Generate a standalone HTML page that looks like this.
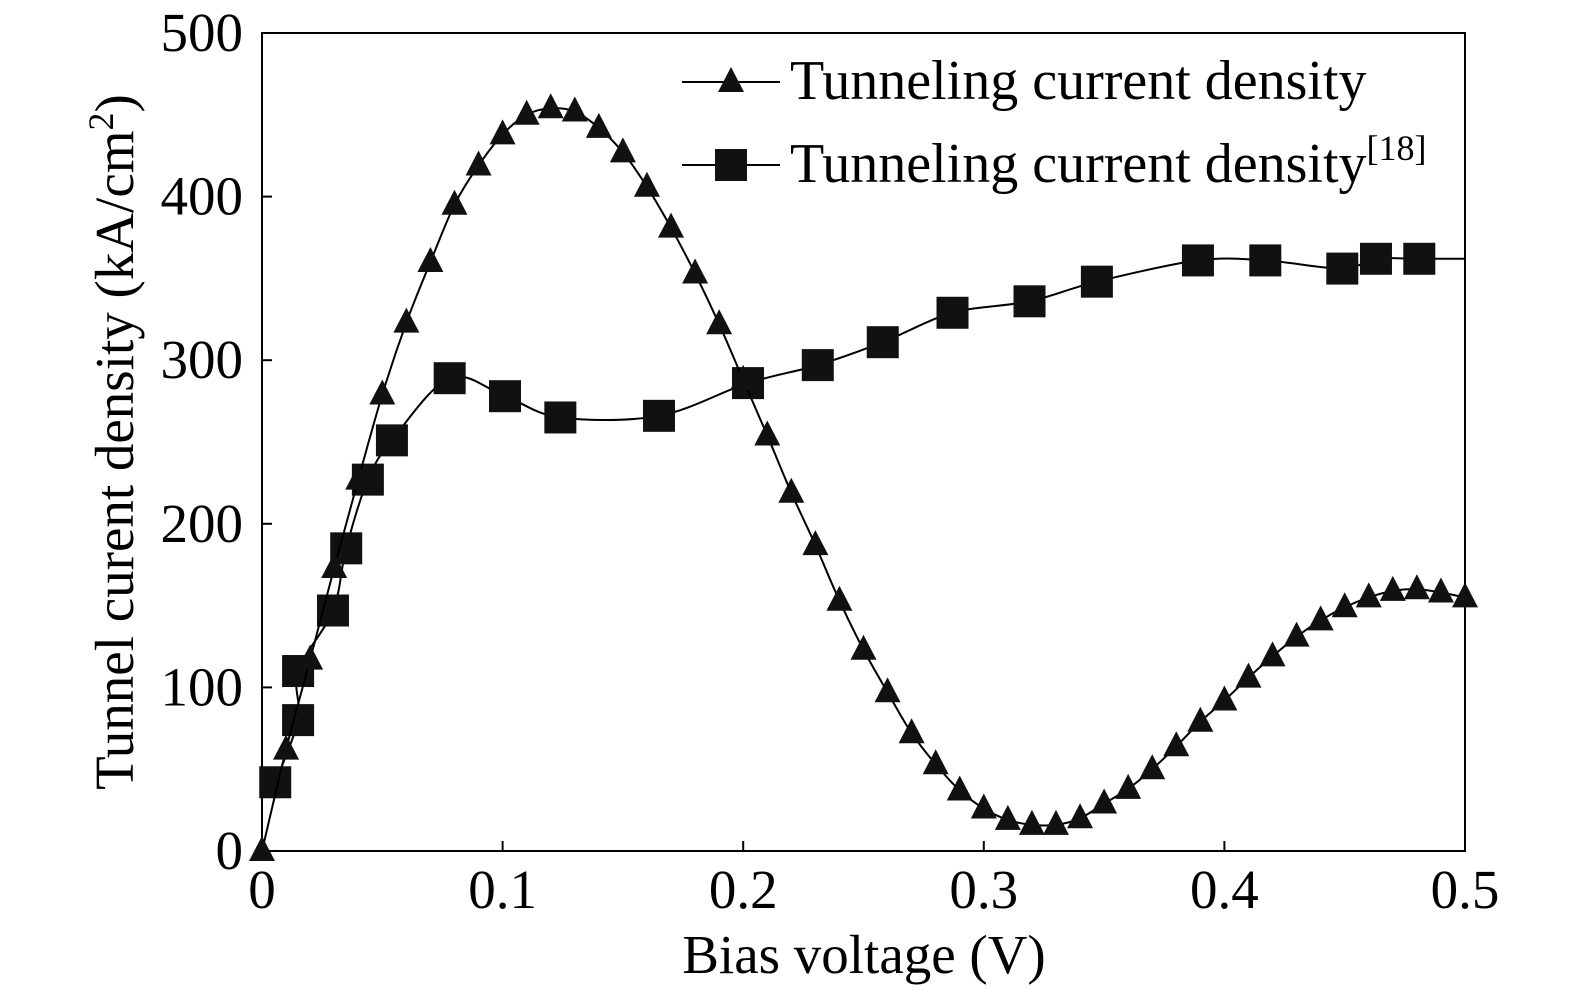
<!DOCTYPE html>
<html><head><meta charset="utf-8">
<style>
html,body{margin:0;padding:0;background:#fff;}
svg{display:block;font-family:"Liberation Serif",serif;}
</style></head>
<body>
<svg id="chart" width="1575" height="994" viewBox="0 0 1575 994">
<g id="plot"></g>
</svg>
<script>
const triX=[0,0.01,0.02,0.03,0.04,0.05,0.06,0.07,0.08,0.09,0.10,0.11,0.12,0.13,0.14,0.15,0.16,0.17,0.18,0.19,0.20,0.21,0.22,0.23,0.24,0.25,0.26,0.27,0.28,0.29,0.30,0.31,0.32,0.33,0.34,0.35,0.36,0.37,0.38,0.39,0.40,0.41,0.42,0.43,0.44,0.45,0.46,0.47,0.48,0.49,0.50];
const triY=[0,62,117,173,227,279,323,360,395,419,438,450,454,452,442,427,406,381,353,322,288,254,219,187,153,123,97,72,53,37,26,19,16,16,20,29,38,50,64,79,92,106,119,131,141,149,155,159,160,158,155];
const sqX=[0.0055,0.015,0.015,0.0295,0.035,0.044,0.054,0.078,0.101,0.124,0.165,0.202,0.231,0.258,0.287,0.319,0.347,0.389,0.417,0.449,0.463,0.481];
const sqY=[42,80,110,147,185,227,251,289,278,265,266,286,297,311,329,336,348,361,361,356,362,362];
const sqLineEnd=[0.5,362];
const xTicks=[0,0.1,0.2,0.3,0.4,0.5];
const xTickLabels=["0","0.1","0.2","0.3","0.4","0.5"];
const yTicks=[0,100,200,300,400,500];
const yTickLabels=["0","100","200","300","400","500"];

const L=262,R=1465,T=33,B=851;
const xs=v=>L+(v-0)/(0.5)*(R-L);
const ys=v=>B-(v/500)*(B-T);
const NS="http://www.w3.org/2000/svg";
const g=document.getElementById('plot');
function mk(t,a,p){const e=document.createElementNS(NS,t);for(const k in a)e.setAttribute(k,a[k]);(p||g).appendChild(e);return e;}
function smooth(pts){let d=`M${pts[0][0]},${pts[0][1]}`;for(let i=0;i<pts.length-1;i++){const p0=pts[i-1]||pts[i],p1=pts[i],p2=pts[i+1],p3=pts[i+2]||p2;const c1=[p1[0]+(p2[0]-p0[0])/6,p1[1]+(p2[1]-p0[1])/6],c2=[p2[0]-(p3[0]-p1[0])/6,p2[1]-(p3[1]-p1[1])/6];d+=`C${c1[0]},${c1[1]} ${c2[0]},${c2[1]} ${p2[0]},${p2[1]}`;}return d;}

let fr=mk('rect',{x:L,y:T,width:R-L,height:B-T,fill:'none',stroke:'#000','stroke-width':2});

xTicks.forEach((v,i)=>{
 let t=mk('line',{x1:xs(v),x2:xs(v),y1:B,y2:B-10,stroke:'#000','stroke-width':2});
 
 let tx=mk('text',{x:xs(v),y:B+57,'font-size':55,'text-anchor':'middle'});tx.textContent=xTickLabels[i];
 
});
yTicks.forEach((v,i)=>{
 let t=mk('line',{x1:L,x2:L+10,y1:ys(v),y2:ys(v),stroke:'#000','stroke-width':2});
 
 let tx=mk('text',{x:L-19,y:ys(v)+18,'font-size':55,'text-anchor':'end'});tx.textContent=yTickLabels[i];
 
});
let xt=mk('text',{x:864,y:973,'font-size':55,'text-anchor':'middle'});xt.textContent='Bias voltage (V)';

let yt=mk('text',{x:0,y:0,'font-size':55,'text-anchor':'middle',transform:`translate(133,442) rotate(-90)`});
yt.innerHTML='Tunnel curent density (kA/cm<tspan dy="-20" font-size="36">2</tspan><tspan dy="20">)</tspan>';


const sqPts=sqX.map((v,i)=>[xs(v),ys(sqY[i])]);
const sqPath=sqPts.concat([[xs(sqLineEnd[0]),ys(sqLineEnd[1])]]);
let sl=mk('path',{d:smooth(sqPath),fill:'none',stroke:'#000','stroke-width':2});

sqPts.forEach(p=>{let r=mk('rect',{x:p[0]-16,y:p[1]-16,width:32,height:32,fill:'#111'});
 });

const trPts=triX.map((v,i)=>[xs(v),ys(triY[i])]);
let tl=mk('path',{d:smooth(trPts),fill:'none',stroke:'#000','stroke-width':2});

trPts.forEach(p=>{let r=mk('polygon',{points:`${p[0]},${p[1]-15} ${p[0]-13},${p[1]+10} ${p[0]+13},${p[1]+10}`,fill:'#111'});
 });

let lg=mk('g',{});
mk('line',{x1:682,x2:780,y1:82,y2:82,stroke:'#000','stroke-width':2},lg);
let m1=mk('polygon',{points:'731,67 718,92 744,92',fill:'#111'},lg);

let t1=mk('text',{x:790,y:99,'font-size':56},lg);t1.textContent='Tunneling current density';

mk('line',{x1:682,x2:780,y1:165,y2:165,stroke:'#000','stroke-width':2},lg);
let m2=mk('rect',{x:715,y:149,width:32,height:32,fill:'#111'},lg);

let t2=mk('text',{x:790,y:182,'font-size':56},lg);t2.innerHTML='Tunneling current density<tspan dy="-22" font-size="36">[18]</tspan>';

</script>
</body></html>
